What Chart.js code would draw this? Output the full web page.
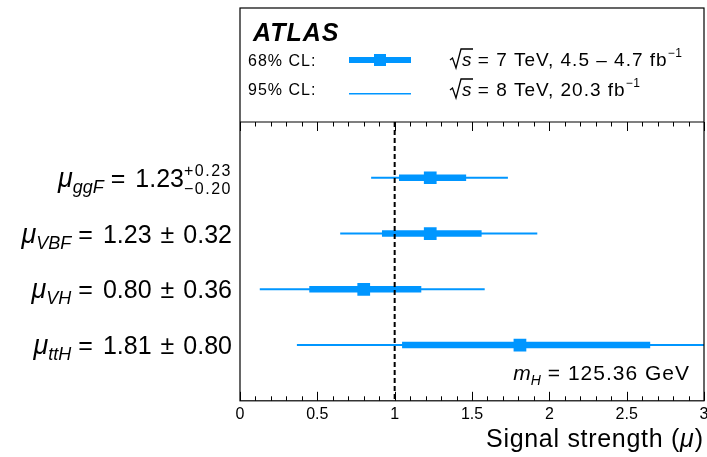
<!DOCTYPE html>
<html>
<head>
<meta charset="utf-8">
<script src="https://cdn.jsdelivr.net/npm/chart.js@4"></script>
<style>
  html, body { margin: 0; padding: 0; background: #fff; }
  #wrap { width: 707px; height: 457px; }
</style>
</head>
<body>
<div id="wrap"><canvas id="muChart"></canvas></div>
<script>
// rows (first and last are empty spacer rows)
const categories = ['', 'ggF', 'VBF', 'VH', 'ttH', ''];
const central = [null, 1.23, 1.23, 0.80, 1.81, null];
const cl68 = [null, [1.03, 1.46], [0.92, 1.56], [0.45, 1.17], [1.05, 2.65], null];
const cl95 = [null, [0.85, 1.73], [0.65, 1.92], [0.13, 1.58], [0.37, 3.2], null];
const valueText = [null, '1.23', '1.23', '0.80', '1.81', null];
const errText = [null, ['+0.23', '\u22120.20'], '0.32', '0.36', '0.80', null];
const xTicks = [0, 0.5, 1, 1.5, 2, 2.5, 3];

const BLUE = '#0096ff';
const FAM = '"Liberation Sans", Arial, Helvetica, sans-serif';

// draws a list of text pieces left to right (or right aligned at x)
function drawRich(ctx, parts, x, yBase, alignRight) {
  ctx.save();
  ctx.textBaseline = 'alphabetic';
  ctx.textAlign = 'left';
  const setFont = p => { ctx.font = p.font; ctx.letterSpacing = (p.ls || 0) + 'px'; };
  const widths = parts.map(p => {
    setFont(p);
    if (p.stack) return Math.max(ctx.measureText(p.stack[0]).width, ctx.measureText(p.stack[1]).width);
    return ctx.measureText(p.t).width + (p.gap || 0);
  });
  const total = widths.reduce((a, b) => a + b, 0);
  let cx = alignRight ? x - total : x;
  parts.forEach((p, i) => {
    setFont(p);
    ctx.fillStyle = '#000';
    if (p.stack) {
      ctx.fillText(p.stack[0], cx, yBase + p.dy[0]);
      ctx.fillText(p.stack[1], cx, yBase + p.dy[1]);
    } else {
      ctx.fillText(p.t, cx + (p.gap || 0), yBase + (p.dy || 0));
    }
    cx += widths[i];
  });
  ctx.restore();
}

function drawSqrtS(ctx, x, yBase, rest) {
  ctx.save();
  ctx.strokeStyle = '#000';
  ctx.lineWidth = 1.3;
  ctx.beginPath();
  ctx.moveTo(x, yBase - 6);
  ctx.lineTo(x + 2.5, yBase - 8);
  ctx.lineTo(x + 6, yBase + 2);
  ctx.lineTo(x + 11, yBase - 17);
  ctx.lineTo(x + 23, yBase - 17);
  ctx.stroke();
  ctx.restore();
  drawRich(ctx, [
    { t: 's', font: 'italic 19px ' + FAM },
    { t: rest, font: '19px ' + FAM, ls: 1 },
    { t: '\u22121', font: '12px ' + FAM, dy: -9, ls: 0.5 }
  ], x + 12, yBase, false);
}

const framePlugin = {
  id: 'frame',
  afterDatasetsDraw(chart) {
    const { ctx, chartArea: a, scales: { x } } = chart;
    // dashed SM line
    ctx.save();
    ctx.strokeStyle = '#000';
    ctx.lineWidth = 2;
    ctx.setLineDash([5, 3]);
    ctx.beginPath();
    ctx.moveTo(x.getPixelForValue(1), a.top);
    ctx.lineTo(x.getPixelForValue(1), a.bottom);
    ctx.stroke();
    ctx.restore();
  },
  afterDraw(chart) {
    const { ctx, chartArea: a, scales: { x, y } } = chart;
    const boxTop = 8;
    ctx.save();
    ctx.strokeStyle = '#000';
    ctx.lineWidth = 1.2;
    ctx.strokeRect(a.left, boxTop, a.right - a.left, a.bottom - boxTop);
    ctx.beginPath();
    ctx.moveTo(a.left, a.top);
    ctx.lineTo(a.right, a.top);
    ctx.stroke();
    // ticks, major every 0.5, minor every 0.1
    ctx.lineWidth = 1;
    for (let i = 0; i <= 30; i++) {
      const px = Math.round(x.getPixelForValue(i / 10)) + 0.5;
      const len = i % 5 === 0 ? 9 : 4.5;
      ctx.beginPath();
      ctx.moveTo(px, a.bottom);
      ctx.lineTo(px, a.bottom - len);
      ctx.moveTo(px, a.top);
      ctx.lineTo(px, a.top + len);
      ctx.stroke();
    }
    ctx.restore();

    // legend box content
    ctx.save();
    ctx.fillStyle = '#000';
    ctx.font = 'italic bold 25px ' + FAM;
    ctx.letterSpacing = '1px';
    ctx.fillText('ATLAS', 253, 41);
    ctx.font = '16px ' + FAM;
    ctx.letterSpacing = '1px';
    ctx.fillText('68% CL:', 248, 66);
    ctx.fillText('95% CL:', 248, 95);
    ctx.fillStyle = BLUE;
    ctx.fillRect(349, 57, 62, 6);
    ctx.fillRect(374, 54, 12, 12);
    ctx.fillRect(349, 93, 62, 1.5);
    ctx.restore();
    drawSqrtS(ctx, 450, 66, ' = 7 TeV, 4.5 \u2013 4.7 fb');
    drawSqrtS(ctx, 450, 96, ' = 8 TeV, 20.3 fb');

    // row labels
    for (let i = 1; i <= 4; i++) {
      const py = y.getPixelForValue(i) + 9;
      const parts = [
        { t: '\u03bc', font: 'italic 27px ' + FAM },
        { t: categories[i], font: 'italic 18px ' + FAM, dy: 6 },
        { t: '=', font: '25px ' + FAM, gap: 7 },
        { t: valueText[i], font: '25px ' + FAM, gap: 10 }
      ];
      if (Array.isArray(errText[i])) {
        parts.push({ stack: errText[i], font: '16px ' + FAM, ls: 1.5, dy: [-11, 7] });
      } else {
        parts.push({ t: '\u00b1', font: '25px ' + FAM, gap: 9 });
        parts.push({ t: errText[i], font: '25px ' + FAM, gap: 9 });
      }
      drawRich(ctx, parts, 232, py, true);
    }

    // mass label
    drawRich(ctx, [
      { t: 'm', font: 'italic 21px ' + FAM },
      { t: 'H', font: 'italic 14px ' + FAM, dy: 5 },
      { t: '= 125.36 GeV', font: '21px ' + FAM, gap: 7, ls: 1 }
    ], 690, 380, true);

    // axis title
    drawRich(ctx, [
      { t: 'Signal strength (', font: '25px ' + FAM, ls: 0.7 },
      { t: '\u03bc', font: 'italic 25px ' + FAM },
      { t: ')', font: '25px ' + FAM, gap: 1 }
    ], 703, 447, true);
  }
};

new Chart(document.getElementById('muChart'), {
  type: 'bar',
  data: {
    labels: categories,
    datasets: [
      {
        type: 'scatter',
        label: 'central',
        data: central.map((v, i) => ({ x: v, y: categories[i] })),
        pointStyle: 'rect',
        pointRadius: 9,
        pointHoverRadius: 9,
        backgroundColor: BLUE,
        borderWidth: 0,
        order: 0
      },
      {
        label: '68% CL',
        data: cl68,
        backgroundColor: BLUE,
        barThickness: 6,
        grouped: false,
        borderSkipped: false,
        clip: 0,
        order: 1
      },
      {
        label: '95% CL',
        data: cl95,
        backgroundColor: BLUE,
        barThickness: 1.5,
        grouped: false,
        borderSkipped: false,
        clip: 0,
        order: 2
      }
    ]
  },
  options: {
    indexAxis: 'y',
    responsive: true,
    maintainAspectRatio: false,
    animation: false,
    layout: { autoPadding: false, padding: { top: 122, left: 240, right: 3, bottom: 29 } },
    plugins: { legend: { display: false }, tooltip: { enabled: false } },
    scales: {
      x: {
        type: 'linear',
        min: 0,
        max: 3,
        afterBuildTicks: (s) => { s.ticks = xTicks.map(v => ({ value: v })); },
        afterFit: (s) => { s.paddingLeft = 0; s.paddingRight = 0; },
        grid: { display: false, drawTicks: false },
        border: { display: false },
        ticks: {
          color: '#000',
          padding: 4,
          maxRotation: 0,
          autoSkip: false,
          font: { family: FAM, size: 16 },
          callback: (v) => String(v)
        }
      },
      y: {
        type: 'category',
        offset: false,
        display: false
      }
    }
  },
  plugins: [framePlugin]
});
</script>
</body>
</html>
